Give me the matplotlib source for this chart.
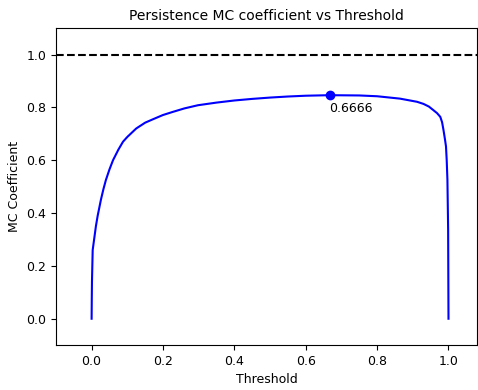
import matplotlib
matplotlib.use('Agg')
import matplotlib.pyplot as plt

# valores
threshold = [0.0, 0.0005, 0.001, 0.003, 0.008, 0.012, 0.017, 0.026, 0.033, 0.04,
             0.05, 0.06, 0.075, 0.088, 0.1, 0.125, 0.15, 0.172, 0.2, 0.228,
             0.26, 0.298, 0.35, 0.4, 0.45, 0.5, 0.55, 0.6, 0.6666, 0.75,
             0.8, 0.864, 0.912, 0.93, 0.945, 0.958, 0.968, 0.977, 0.982, 0.986,
             0.990, 0.993, 0.995, 0.997, 0.999, 1.0]
mc = [0.0, 0.08, 0.14, 0.26, 0.31, 0.35, 0.39, 0.45, 0.49, 0.525,
      0.565, 0.60, 0.64, 0.67, 0.688, 0.72, 0.742, 0.755, 0.771, 0.783,
      0.796, 0.808, 0.818, 0.826, 0.832, 0.837, 0.841, 0.844, 0.846, 0.845,
      0.842, 0.833, 0.821, 0.813, 0.803, 0.789, 0.778, 0.764, 0.744, 0.714,
      0.68, 0.652, 0.60, 0.526, 0.338, 0.0]
best_t = 0.6666
best_mc = 0.846

fig = plt.figure(figsize=(4.78, 3.9), dpi=100)
ax = fig.add_subplot(111)
fig.subplots_adjust(left=0.117, right=0.998, top=0.928, bottom=0.115)

ax.plot(threshold, mc, color='blue', lw=1.5)
ax.axhline(1.0, color='black', ls='--', lw=1.5)
ax.plot([best_t], [best_mc], 'o', color='blue', ms=6)
ax.annotate('{:.4f}'.format(best_t), (best_t, best_mc), xytext=(0, -5),
            textcoords='offset points', ha='left', va='top', fontsize=9)

ax.set_xlim(-0.1, 1.08)
ax.set_ylim(-0.1, 1.1)
ax.set_xlabel('Threshold', fontsize=9)
ax.set_ylabel('MC Coefficient', fontsize=9)
ax.set_title('Persistence MC coefficient vs Threshold', fontsize=10)
ax.tick_params(labelsize=9)

fig.savefig('out.png', dpi=100)
